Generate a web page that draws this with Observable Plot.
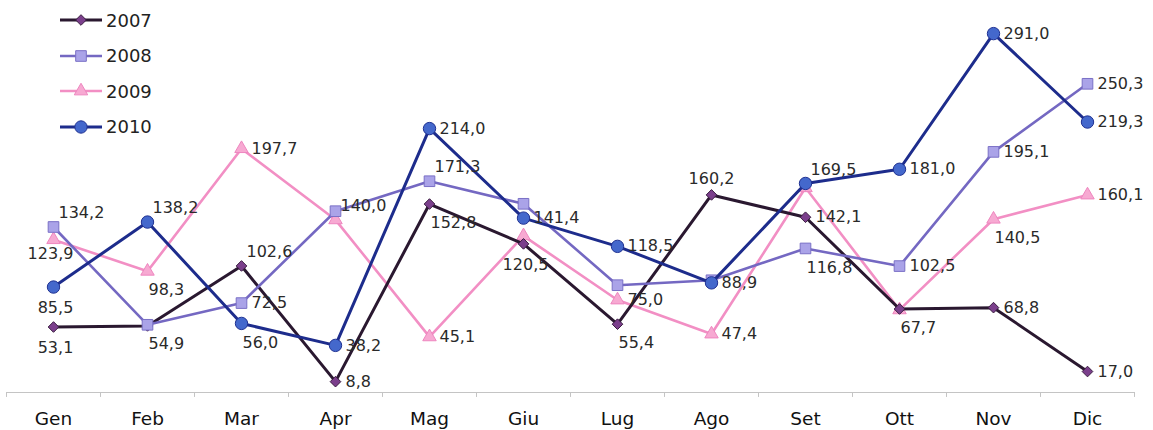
<!DOCTYPE html>
<html>
<head>
<meta charset="utf-8">
<script src="https://cdn.jsdelivr.net/npm/d3@7"></script>
<script src="https://cdn.jsdelivr.net/npm/@observablehq/plot@0.6"></script>
<style>
  html, body { margin: 0; padding: 0; background: #fff; }
  #wrap { position: relative; width: 1153px; height: 430px; font-family: "DejaVu Sans", Arial, sans-serif; }
  #legend { position: absolute; left: 58px; top: 8px; }
  .lg { position: absolute; left: 0; height: 24px; display: flex; align-items: center; white-space: nowrap; }
  .lg span { font-size: 18px; color: #222; margin-left: 2px; }
</style>
</head>
<body>
<div id="wrap"><div id="chart"></div><div id="legend"></div></div>
<script>
// ---- data ----
const months = ["Gen", "Feb", "Mar", "Apr", "Mag", "Giu", "Lug", "Ago", "Set", "Ott", "Nov", "Dic"];
const years = ["2007", "2008", "2009", "2010"];
const values2007 = [53.1, 54.0, 102.6, 8.8, 152.8, 120.5, 55.4, 160.2, 142.1, 67.7, 68.8, 17.0];
const values2008 = [134.2, 54.9, 72.5, 147.0, 171.3, 153.0, 87.0, 91.0, 116.8, 102.5, 195.1, 250.3];
const values2009 = [123.9, 98.3, 197.7, 140.0, 45.1, 127.0, 75.0, 47.4, 166.0, 67.0, 140.5, 160.1];
const values2010 = [85.5, 138.2, 56.0, 38.2, 214.0, 141.4, 118.5, 88.9, 169.5, 181.0, 291.0, 219.3];

// label placement (style): r = right, a = above, ar = above-right, b = below, br = below-right, null = no label
const place2007 = ["b", null, "ar", "r", "br", "b", "br", "a", "r", "br", "r", "r"];
const place2008 = ["ar", "br", "r", null, "ar", null, null, null, "br", "r", "r", "r"];
const place2009 = ["bt", "br", "r", "ar", "r", null, "r", "r", null, null, "br", "r"];
const place2010 = ["b", "ar", "br", "r", "r", "r", "r", "r", "ar", "r", "r", "r"];

const seriesValues = {"2007": values2007, "2008": values2008, "2009": values2009, "2010": values2010};
const seriesPlace = {"2007": place2007, "2008": place2008, "2009": place2009, "2010": place2010};

const style = {
  "2007": {line: "#2a1830", width: 3, fill: "#7b3f8c", stroke: "#3a1d40", symbol: "diamond2", r: 4.8},
  "2008": {line: "#7468c2", width: 2.6, fill: "#aaa3e8", stroke: "#7a70c6", symbol: "square", r: 6},
  "2009": {line: "#f28fc4", width: 2.6, fill: "#f7a9d2", stroke: "#ee86bf", symbol: "triangle", r: 5},
  "2010": {line: "#1d2c8c", width: 3, fill: "#4468cc", stroke: "#1f3192", symbol: "circle", r: 6.2}
};

const rows = years.flatMap(y => seriesValues[y].map((v, i) => ({year: y, i, month: months[i], value: v, place: seriesPlace[y][i]})));
const fmt = v => v.toFixed(1).replace(".", ",");

const placeOpts = {
  r:  {textAnchor: "start", dx: 10, dy: 0},
  a:  {textAnchor: "middle", dx: 0, dy: -16},
  ar: {textAnchor: "start", dx: 5, dy: -14},
  b:  {textAnchor: "middle", dx: 2, dy: 21},
  bt: {textAnchor: "middle", dx: -3, dy: 14},
  br: {textAnchor: "start", dx: 1, dy: 19}
};

const drawOrder = ["2009", "2007", "2008", "2010"];
const marks = [
  Plot.ruleY([0], {stroke: "#c4c4c4", strokeWidth: 1.2}),
  Plot.ruleX(d3.range(13).map(i => i - 0.5), {y1: 0, y2: -4, stroke: "#c4c4c4"}),
  Plot.axisX({ticks: d3.range(12), tickFormat: i => months[i], tickSize: 0, tickPadding: 19, fontSize: 18.5, fill: "#111", label: null})
];
for (const y of drawOrder) {
  const s = style[y];
  const d = rows.filter(r => r.year === y);
  marks.push(Plot.line(d, {x: "i", y: "value", stroke: s.line, strokeWidth: s.width, strokeLinejoin: "round"}));
  marks.push(Plot.dot(d, {x: "i", y: "value", symbol: s.symbol, r: s.r, fill: s.fill, stroke: s.stroke, strokeWidth: 1}));
}
for (const [key, o] of Object.entries(placeOpts)) {
  marks.push(Plot.text(rows.filter(r => r.place === key), {
    x: "i", y: "value", text: d => fmt(d.value),
    textAnchor: o.textAnchor, dx: o.dx, dy: o.dy,
    fontSize: 16, fill: "#2a2a2a", fontFamily: "DejaVu Sans, Arial, sans-serif"
  }));
}

const chart = Plot.plot({
  width: 1153, height: 430,
  marginLeft: 6, marginRight: 19, marginTop: 22, marginBottom: 38,
  style: {fontFamily: "DejaVu Sans, Arial, sans-serif", background: "#fff"},
  x: {domain: [-0.5, 11.5], axis: null},
  y: {domain: [0, 300], axis: null},
  marks
});
document.getElementById("chart").append(chart);

// legend (inside top-left)
const legend = document.getElementById("legend");
const symPath = {
  "2007": () => d3.symbol(d3.symbolDiamond2, 72)(),
  "2008": () => d3.symbol(d3.symbolSquare, 113)(),
  "2009": () => d3.symbol(d3.symbolTriangle, 78)(),
  "2010": () => d3.symbol(d3.symbolCircle, 120)()
};
years.forEach((y, k) => {
  const s = style[y];
  const row = document.createElement("div");
  row.className = "lg";
  row.style.top = (k * 35.5) + "px";
  row.innerHTML = `<svg width="46" height="24"><line x1="2" x2="44" y1="12" y2="12" stroke="${s.line}" stroke-width="${s.width}"/>` +
    `<path d="${symPath[y]()}" transform="translate(23,12)" fill="${s.fill}" stroke="${s.stroke}" stroke-width="1"/></svg><span>${y}</span>`;
  legend.append(row);
});
</script>
</body>
</html>
